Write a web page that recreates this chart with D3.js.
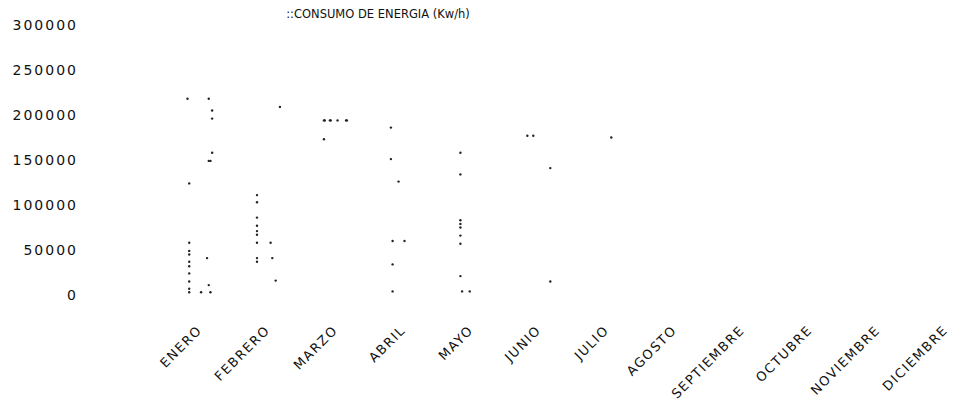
<!doctype html>
<html lang="es">
<head>
  <meta charset="utf-8">
  <title>Consumo de energia</title>
  <script src="https://cdn.jsdelivr.net/npm/d3@7"></script>
  <style>
    body { margin: 0; background: #fff; }
    text { font-family: "DejaVu Sans", sans-serif; fill: #111; }
  </style>
</head>
<body>
  <div id="chart"></div>
<script>
  // months on the x axis
  const months = ['ENERO', 'FEBRERO', 'MARZO', 'ABRIL', 'MAYO', 'JUNIO', 'JULIO',
    'AGOSTO', 'SEPTIEMBRE', 'OCTUBRE', 'NOVIEMBRE', 'DICIEMBRE'];
  const yTicks = [0, 50000, 100000, 150000, 200000, 250000, 300000];

  // readings per month: [day, kw/h]
  const enero = [[1, 218000], [26, 218000], [30, 205000], [30, 196000], [30, 158000],
    [26, 149000], [28, 149000], [3, 124000], [3, 58000], [3, 49000], [3, 45000],
    [24, 41000], [3, 37000], [3, 32000], [3, 24000], [3, 15000], [26, 11000],
    [3, 7000], [3, 3000], [17, 3000], [28, 3000]];
  const febrero = [[30, 209000], [3, 111000], [3, 103000], [3, 86000], [3, 77000],
    [3, 71000], [3, 67000], [3, 58000], [19, 58000], [3, 41000], [21, 41000],
    [3, 37000], [25, 16000]];
  const marzo = [[2, 194000], [3, 194000], [9, 194000], [10, 194000], [18, 194000],
    [28, 194000], [29, 194000], [2, 173000]];
  const abril = [[1, 186000], [1, 151000], [10, 126000], [3, 60000], [17, 60000],
    [3, 34000], [3, 4000]];
  const mayo = [[3, 158000], [3, 134000], [3, 83000], [3, 79000], [3, 75000],
    [3, 66000], [3, 57000], [3, 21000], [5, 4000], [14, 4000]];
  const junio = [[2, 177000], [9, 177000], [29, 141000], [29, 15000]];
  const julio = [[21, 175000]];

  const byMonth = [enero, febrero, marzo, abril, mayo, junio, julio];

  const width = 956, height = 404;
  const svg = d3.select('#chart').append('svg')
    .attr('width', width)
    .attr('height', height);

  const x = d3.scaleBand().domain(months).range([168, 168 + 12 * 67.8]);
  const day = d3.scaleLinear().domain([1, 31]).range([19.5, 19.5 + 30 * 0.85]);
  const y = d3.scaleLinear().domain([0, 300000]).range([295, 25]);

  // y axis labels only
  const yAxis = svg.append('g')
    .attr('transform', 'translate(84,0)')
    .call(d3.axisLeft(y).tickValues(yTicks).tickSize(0).tickPadding(6).tickFormat(d3.format('d')));
  yAxis.select('.domain').remove();
  yAxis.selectAll('text')
    .style('font-family', '"DejaVu Sans", sans-serif')
    .style('font-size', '14px')
    .style('letter-spacing', '2px')
    .style('fill', '#111');

  // month labels, rotated
  svg.append('g').selectAll('text')
    .data(months)
    .join('text')
    .attr('transform', d => `translate(${x(d) + x.bandwidth() / 2 + 1},331) rotate(-45)`)
    .attr('text-anchor', 'end')
    .style('font-size', '13px')
    .style('letter-spacing', '1.5px')
    .text(d => d);

  // dots
  const points = byMonth.flatMap((rows, i) => rows.map(r => ({ m: months[i], d: r[0], v: r[1] })));
  svg.append('g').selectAll('circle')
    .data(points)
    .join('circle')
    .attr('cx', p => x(p.m) + day(p.d))
    .attr('cy', p => y(p.v))
    .attr('r', 1.2)
    .style('fill', '#222');

  // title
  svg.append('text')
    .attr('x', 378)
    .attr('y', 18)
    .attr('text-anchor', 'middle')
    .style('font-size', '11.5px')
    .text('::CONSUMO DE ENERGIA (Kw/h)');
</script>
</body>
</html>
